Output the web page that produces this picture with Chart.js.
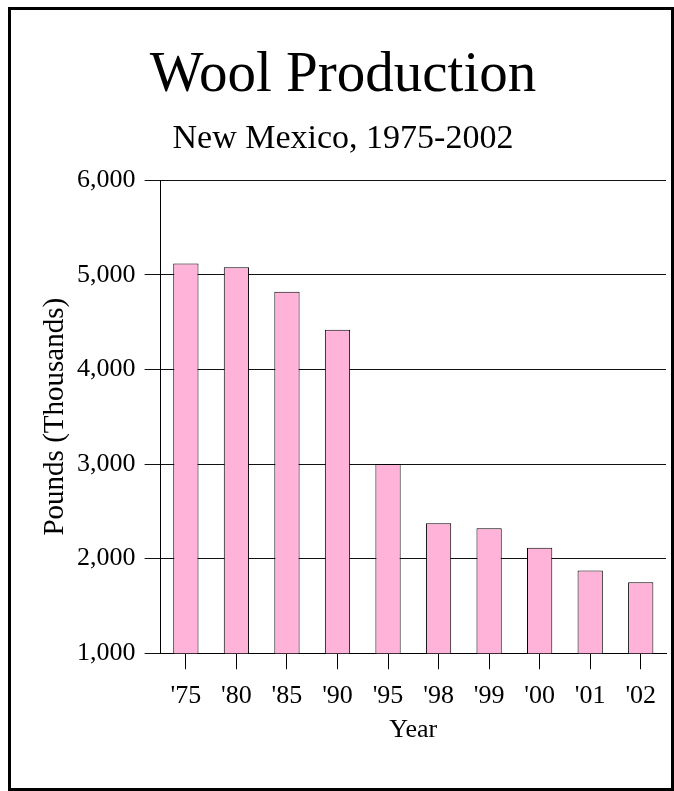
<!DOCTYPE html>
<html lang="en">
<head>
    <meta charset="UTF-8">
    <title>Wool Production</title>
    <script src="https://cdn.jsdelivr.net/npm/chart.js"></script>
    <style>
        body {
            margin: 0;
            background: #fff;
        }
        #wrap {
            position: relative;
            width: 674px;
            height: 791px;
        }
        #frame {
            position: absolute;
            left: 8px;
            top: 7px;
            width: 666px;
            height: 784px;
            box-sizing: border-box;
            border: 3.5px solid #000;
            pointer-events: none;
        }
    </style>
</head>
<body>
    <div id="wrap">
        <canvas id="woolChart" width="674" height="791"></canvas>
        <div id="frame"></div>
    </div>

    <script>
// Wool production, New Mexico (thousands of pounds)
let years = ["'75", "'80", "'85", "'90", "'95", "'98", "'99", "'00", "'01", "'02"];
let pounds = [5120, 5080, 4820, 4420, 3000, 2375, 2320, 2115, 1875, 1750];
let yTicks = [1000, 2000, 3000, 4000, 5000, 6000];

let serif = "'Liberation Serif', 'Times New Roman', serif";

let woolChart = new Chart(document.getElementById('woolChart'), {
    type: 'bar',
    data: {
        labels: years,
        datasets: [{
            label: 'Pounds (Thousands)',
            data: pounds,
            backgroundColor: '#ffb3d9',
            borderColor: '#000',
            borderWidth: 1,
            borderSkipped: false,
            barPercentage: 0.5,
            categoryPercentage: 1.0
        }]
    },
    options: {
        responsive: false,
        animation: false,
        layout: {
            padding: { left: 20, right: 8, top: 0, bottom: 54 }
        },
        plugins: {
            legend: { display: false },
            tooltip: { enabled: false },
            title: {
                display: true,
                text: 'Wool Production',
                color: '#000',
                font: { family: serif, size: 57, weight: 'normal' },
                padding: { top: 42, bottom: 4 }
            },
            subtitle: {
                display: true,
                text: 'New Mexico, 1975-2002',
                color: '#000',
                font: { family: serif, size: 34, weight: 'normal' },
                padding: { top: 4, bottom: 21 }
            }
        },
        scales: {
            x: {
                offset: true,
                grid: {
                    offset: false,
                    drawOnChartArea: false,
                    color: '#000',
                    tickLength: 16
                },
                border: { color: '#000', width: 1 },
                ticks: {
                    color: '#000',
                    padding: 10,
                    font: { family: serif, size: 26, lineHeight: 1.3 }
                },
                title: {
                    display: true,
                    text: 'Year',
                    color: '#000',
                    font: { family: serif, size: 26, lineHeight: 0.5 },
                    padding: { top: 1, bottom: 0 }
                }
            },
            y: {
                min: 1000,
                max: 6000,
                afterBuildTicks: function(scale) {
                    scale.ticks = yTicks.map(v => ({ value: v }));
                },
                grid: {
                    color: '#111',
                    tickLength: 16
                },
                border: { color: '#000', width: 1 },
                ticks: {
                    color: '#000',
                    padding: 9,
                    font: { family: serif, size: 26 },
                    callback: function(value) {
                        return value.toLocaleString('en-US');
                    }
                },
                title: {
                    display: true,
                    text: 'Pounds (Thousands)',
                    color: '#000',
                    font: { family: serif, size: 29, lineHeight: 0.9 },
                    padding: { top: 22, bottom: 0 }
                }
            }
        }
    }
});
    </script>
</body>
</html>
